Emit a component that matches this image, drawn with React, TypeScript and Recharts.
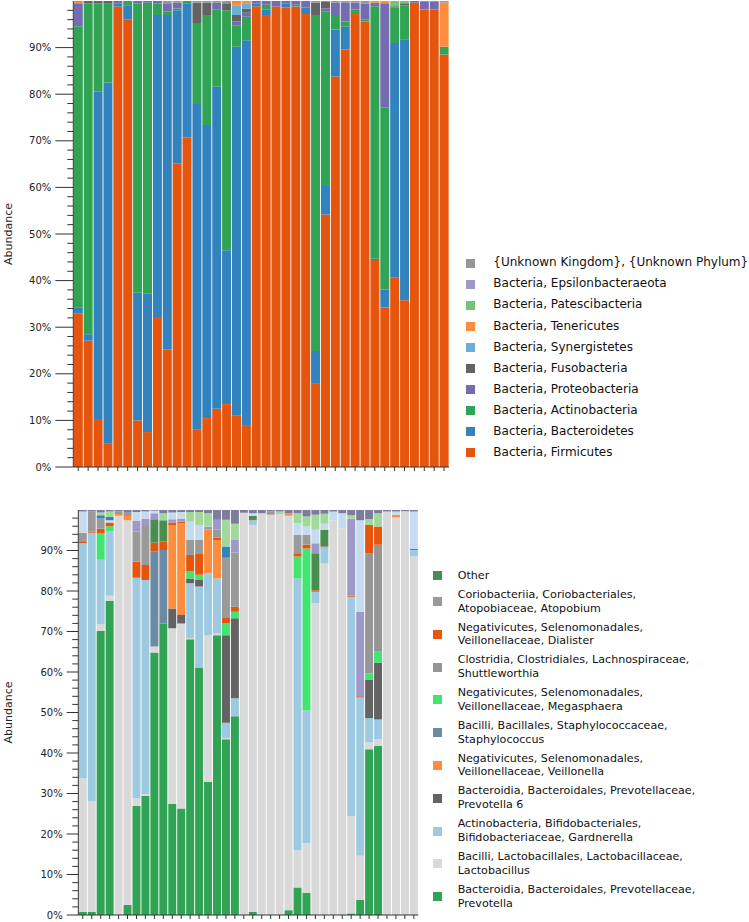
import { BarChart, Bar, XAxis, YAxis, Legend } from "recharts"

const FONT = "'DejaVu Sans', Verdana, sans-serif"

const samples = [
  "S01", "S02", "S03", "S04", "S05", "S06", "S07", "S08", "S09", "S10",
  "S11", "S12", "S13", "S14", "S15", "S16", "S17", "S18", "S19", "S20",
  "S21", "S22", "S23", "S24", "S25", "S26", "S27", "S28", "S29", "S30",
  "S31", "S32", "S33", "S34", "S35", "S36", "S37", "S38",
]

const pctTicks = [
  0, 2, 4, 6, 8, 10, 12, 14, 16, 18, 20, 22, 24, 26, 28, 30, 32, 34, 36, 38,
  40, 42, 44, 46, 48, 50, 52, 54, 56, 58, 60, 62, 64, 66, 68, 70, 72, 74, 76, 78,
  80, 82, 84, 86, 88, 90, 92, 94, 96, 98,
]

// phylum level (top chart), % per sample
const firmicutes = [32.9, 27.1, 10.3, 5, 98.8, 96.1, 10, 7.5, 32.2, 25.2, 65.1, 70.7, 8, 10.5, 12.5, 13.5, 11, 9, 98.9, 97, 98.8, 98.6, 98.8, 97.2, 18, 54.2, 83.8, 89.6, 97.4, 95.6, 44.4, 34.2, 40.7, 35.8, 99.6, 98.2, 98.2, 88.5]
const bacteroidetes = [1.3, 1.4, 70.2, 77.5, 0.7, 3, 27.4, 29.7, 64.8, 71.8, 32.9, 28.8, 69.9, 62.9, 69.1, 33, 79.2, 82.6, 0.5, 1.1, 0, 0.9, 0, 1.4, 6.9, 6.1, 10.1, 4.9, 0, 0, 0.3, 3.9, 50.3, 56, 0, 0, 0, 0]
const actinobacteria = [60.4, 71, 19, 16.9, 0, 0.9, 62.1, 62.4, 2.5, 0.8, 0.4, 0.5, 17.4, 23.6, 16.5, 51.5, 4.6, 5, 0, 1.1, 0, 0, 0.4, 0, 72.1, 37.4, 3.1, 1.1, 0.8, 0.4, 54.2, 39.1, 7.6, 7.3, 0, 0, 0, 1.7]
const proteobacteria = [4.9, 0, 0, 0, 0.5, 0, 0.5, 0.4, 0.5, 1.7, 1.2, 0, 0, 0, 1.5, 0, 0.8, 0.9, 0.6, 0.8, 1.2, 0.5, 0.8, 1.4, 0, 0.7, 2.6, 4, 1.4, 3.4, 0.7, 22.3, 0, 0, 0.4, 1.6, 1.6, 0]
const fusobacteria = [0, 0.5, 0.5, 0.6, 0, 0, 0, 0, 0, 0, 0, 0, 4.3, 2.6, 0, 1.5, 1.4, 0.9, 0, 0, 0, 0, 0, 0, 2.6, 1.4, 0, 0, 0, 0, 0, 0, 0.3, 0.4, 0, 0, 0, 0]
const synergistetes = [0, 0, 0, 0, 0, 0, 0, 0, 0, 0, 0, 0, 0, 0, 0, 0, 2.1, 1.1, 0, 0, 0, 0, 0, 0, 0, 0, 0, 0, 0, 0, 0, 0, 0, 0, 0, 0, 0, 0]
const tenericutes = [0.3, 0, 0, 0, 0, 0, 0, 0, 0, 0, 0, 0, 0, 0, 0, 0, 0.7, 0.5, 0, 0, 0, 0, 0, 0, 0, 0, 0, 0, 0, 0, 0.4, 0.5, 0, 0, 0, 0, 0, 9.5]
const patescibacteria = [0, 0, 0, 0, 0, 0, 0, 0, 0, 0, 0, 0, 0, 0, 0, 0, 0, 0, 0, 0, 0, 0, 0, 0, 0, 0, 0, 0, 0, 0, 0, 0, 1.1, 0.5, 0, 0, 0, 0]
const epsilonbacteraeota = [0, 0, 0, 0, 0, 0, 0, 0, 0, 0, 0, 0, 0, 0, 0, 0, 0, 0, 0, 0, 0, 0, 0, 0, 0, 0, 0, 0, 0, 0, 0, 0, 0, 0, 0, 0, 0, 0]
const unknownPhylum = [0.2, 0, 0, 0, 0, 0, 0, 0, 0, 0.5, 0.4, 0, 0.4, 0.4, 0.4, 0.5, 0.2, 0, 0, 0, 0, 0, 0, 0, 0.4, 0.2, 0.4, 0.4, 0.4, 0.6, 0, 0, 0, 0, 0, 0.2, 0.2, 0.3]

// genus level (bottom chart), % per sample
const prevotella = [0.8, 0.8, 70.1, 77.6, 0, 2.5, 26.9, 29.4, 64.8, 72, 27.4, 26.3, 68.1, 61.1, 32.9, 69.1, 43.4, 49.1, 0, 0.8, 0, 0, 0, 1.2, 6.8, 5.5, 0, 0, 0, 0, 0.4, 3.7, 40.9, 41.7, 0, 0, 0, 0]
const lactobacillus = [32.9, 27.2, 1.7, 1.2, 98.6, 95, 1.9, 0.5, 1.5, 0, 43.4, 45.7, 0.3, 0, 36.2, 0.4, 0.3, 0, 99.3, 95.5, 99.2, 98.8, 99, 97.4, 9.2, 12.2, 77, 86.8, 97.5, 95.5, 24, 10.9, 1.7, 1.7, 99.6, 98.2, 99.7, 88.5]
const gardnerella = [58.1, 66.4, 15.9, 15.9, 0, 0, 54.5, 52.8, 0, 0, 0, 0, 13.5, 20, 15.3, 13.6, 3.8, 4.4, 0, 1.2, 0, 0, 0, 0, 67.1, 32.8, 2.8, 4, 0, 0, 54.2, 39.1, 6, 4.9, 0, 0, 0, 1.6]
const prevotella6 = [0, 0, 0, 0, 0, 0, 0, 0, 0, 0, 4.9, 2.1, 1.2, 1.6, 0, 0, 21.6, 19.8, 0, 0, 0, 0, 0, 0, 0, 0, 0, 0, 0, 0, 0, 0, 9.4, 14, 0, 0, 0, 0]
const veillonella = [0, 0, 0, 0, 0.4, 1, 0, 0, 0, 0, 20.6, 22.6, 0, 0, 10.7, 9.5, 0, 0, 0, 0, 0, 0, 0, 0.6, 0, 0, 0, 0, 0, 0, 0, 0, 0, 0, 0, 0.6, 0, 0]
const staphylococcus = [0, 0, 0, 0, 0, 0, 0, 0, 23.5, 18.1, 0, 0, 0, 0, 0, 0, 0, 0, 0, 0, 0, 0, 0, 0, 0, 0, 0, 0, 0, 0, 0, 0, 0, 0, 0, 0, 0, 0]
const megasphaera = [0, 0, 6.5, 1.3, 0, 0, 0, 0, 0, 0, 0, 0, 1.7, 1.3, 0, 0, 2.9, 1.6, 0, 0, 0, 0, 0, 0, 5.4, 40, 0, 0, 0, 0, 0, 0, 1.7, 2.7, 0, 0, 0, 0]
const shuttleworthia = [0, 0, 0, 0, 0, 0, 0, 0, 0, 0, 0, 0, 0, 0, 0, 0, 0, 0, 0, 0, 0, 0, 0, 0, 0, 0, 0, 0, 0, 0, 0, 0, 29.6, 26.4, 0, 0, 0, 0]
const dialister = [0.3, 0.3, 1.2, 0.9, 0, 0, 3.9, 3.7, 2.1, 2.1, 0.6, 0.4, 4.1, 5.3, 0, 0.6, 1.5, 1.2, 0, 0.3, 0, 0, 0, 0, 0.8, 0.9, 0.4, 0.2, 0, 0, 0.3, 0.3, 7, 4.5, 0, 0, 0, 0.3]
const atopobium = [2.3, 4.9, 2.5, 0, 0.7, 1, 7.4, 9.9, 0, 0, 0, 0, 3.7, 3.3, 0, 1.9, 14.7, 13.4, 0, 0, 0, 0.8, 0, 0, 4.5, 2.4, 0, 0, 0, 0, 0, 0, 0, 0, 0, 0, 0, 0]
const otherGenera = [0, 0, 0, 0, 0, 0, 0, 0, 5.8, 5.3, 0, 0, 0, 0, 0, 0, 0, 0, 0, 0.8, 0, 0, 0, 0, 0, 0, 9.1, 4.1, 0, 0, 0, 0, 0, 0, 0, 0, 0, 0]
// minor genera present in the bars but not named in the legend
const minorLavender = [0, 0, 0, 0, 0, 0, 2.7, 1.6, 1.5, 0, 0.8, 0.8, 0, 0, 0.8, 2.5, 0, 3.1, 0, 0, 0, 0, 0, 0, 0, 0, 2.5, 0, 0, 0, 19, 20.9, 0, 0, 0, 0, 0, 0]
const minorPaleBlue = [5.2, 0, 0, 0.6, 0, 0, 2.2, 1.7, 0.6, 0, 1.7, 1.6, 4.5, 3.7, 0, 0, 0, 0, 0, 0.6, 0, 0, 0, 0, 2.9, 2.1, 3.3, 1.5, 2.1, 3.7, 0, 22.6, 0, 0, 0, 0.8, 0, 9.2]
const minorBlue = [0, 0, 0.8, 0.8, 0, 0, 0, 0, 0, 0, 0, 0, 0, 0, 0, 0, 2.8, 0, 0, 0, 0, 0, 0, 0, 0, 0, 0, 0, 0, 0, 0, 0, 0, 0, 0, 0, 0, 0]
const minorLightGreen = [0, 0, 0.7, 1.3, 0, 0, 0, 0, 0, 1.7, 0, 0, 2.4, 3.2, 3.3, 0, 6.6, 4, 0, 0, 0, 0, 0.6, 0, 2.5, 2.5, 3.7, 2.5, 0, 0, 0.8, 0, 1.5, 3.3, 0, 0, 0, 0]
const minorRest = [0.4, 0.4, 0.6, 0.4, 0.3, 0.5, 0.5, 0.4, 0.2, 0.8, 0.6, 0.5, 0.5, 0.5, 0.8, 2.4, 2.4, 3.4, 0.7, 0.8, 0.8, 0.4, 0.4, 0.8, 0.8, 1.6, 1.2, 0.9, 0.4, 0.8, 1.3, 2.5, 2.2, 0.8, 0.4, 0.4, 0.3, 0.4]

// stacking order bottom -> top
const phyla = [
  { key: "firmicutes", name: "Bacteria, Firmicutes", color: "#e6550d", values: firmicutes },
  { key: "bacteroidetes", name: "Bacteria, Bacteroidetes", color: "#3182bd", values: bacteroidetes },
  { key: "actinobacteria", name: "Bacteria, Actinobacteria", color: "#31a354", values: actinobacteria },
  { key: "proteobacteria", name: "Bacteria, Proteobacteria", color: "#756bb1", values: proteobacteria },
  { key: "fusobacteria", name: "Bacteria, Fusobacteria", color: "#636363", values: fusobacteria },
  { key: "synergistetes", name: "Bacteria, Synergistetes", color: "#6baed6", values: synergistetes },
  { key: "tenericutes", name: "Bacteria, Tenericutes", color: "#fd8d3c", values: tenericutes },
  { key: "patescibacteria", name: "Bacteria, Patescibacteria", color: "#74c476", values: patescibacteria },
  { key: "epsilon", name: "Bacteria, Epsilonbacteraeota", color: "#9e9ac8", values: epsilonbacteraeota },
  { key: "unknown", name: "{Unknown Kingdom}, {Unknown Phylum}", color: "#969696", values: unknownPhylum },
]

const genera = [
  { key: "prevotella", name: "Bacteroidia, Bacteroidales, Prevotellaceae,\nPrevotella", color: "#31a354", values: prevotella, listed: true },
  { key: "lactobacillus", name: "Bacilli, Lactobacillales, Lactobacillaceae,\nLactobacillus", color: "#d9d9d9", values: lactobacillus, listed: true },
  { key: "gardnerella", name: "Actinobacteria, Bifidobacteriales,\nBifidobacteriaceae, Gardnerella", color: "#9ecae1", values: gardnerella, listed: true },
  { key: "prevotella6", name: "Bacteroidia, Bacteroidales, Prevotellaceae,\nPrevotella 6", color: "#636363", values: prevotella6, listed: true },
  { key: "veillonella", name: "Negativicutes, Selenomonadales,\nVeillonellaceae, Veillonella", color: "#fd8d3c", values: veillonella, listed: true },
  { key: "staphylococcus", name: "Bacilli, Bacillales, Staphylococcaceae,\nStaphylococcus", color: "#6b8ba4", values: staphylococcus, listed: true },
  { key: "megasphaera", name: "Negativicutes, Selenomonadales,\nVeillonellaceae, Megasphaera", color: "#42e570", values: megasphaera, listed: true },
  { key: "shuttleworthia", name: "Clostridia, Clostridiales, Lachnospiraceae,\nShuttleworthia", color: "#969696", values: shuttleworthia, listed: true },
  { key: "dialister", name: "Negativicutes, Selenomonadales,\nVeillonellaceae, Dialister", color: "#e6550d", values: dialister, listed: true },
  { key: "atopobium", name: "Coriobacteriia, Coriobacteriales,\nAtopobiaceae, Atopobium", color: "#9a9a9a", values: atopobium, listed: true },
  { key: "other", name: "Other", color: "#4b8d50", values: otherGenera, listed: true },
  { key: "minorLavender", name: "minor 1", color: "#9e9ac8", values: minorLavender, listed: false },
  { key: "minorPaleBlue", name: "minor 2", color: "#c6dbef", values: minorPaleBlue, listed: false },
  { key: "minorBlue", name: "minor 3", color: "#3182bd", values: minorBlue, listed: false },
  { key: "minorLightGreen", name: "minor 4", color: "#a1d99b", values: minorLightGreen, listed: false },
  { key: "minorRest", name: "minor 5", color: "#7c7c9c", values: minorRest, listed: false },
]

const phylumRows = samples.map((s, i) => {
  const row: Record<string, string | number> = { sample: s }
  phyla.forEach((p) => (row[p.key] = p.values[i]))
  return row
})

const genusRows = samples.map((s, i) => {
  const row: Record<string, string | number> = { sample: s }
  genera.forEach((g) => (row[g.key] = g.values[i]))
  return row
})

const pctTick = (majorLen: number) => (props: any) => {
  const { x, y, payload } = props
  const v = payload.value as number
  const major = v % 10 === 0
  return (
    <g>
      <line x1={x - (major ? majorLen : 6)} x2={x} y1={y} y2={y} stroke="#333" strokeWidth={1} />
      {major && (
        <text x={x - majorLen - 4} y={y} dy="0.35em" textAnchor="end" fontSize={10} fill="#222" fontFamily={FONT}>
          {v}%
        </text>
      )}
    </g>
  )
}

function LegendList({ items, fontSize, rowPad, gap }: any) {
  return (
    <div style={{ fontFamily: FONT, fontSize, color: "#111" }}>
      {items.map((it: any) => (
        <div key={it.key} style={{ display: "flex", alignItems: "center", padding: `${rowPad}px 0` }}>
          <span style={{ width: 9, height: 9, background: it.color, flex: "none" }} />
          <span style={{ marginLeft: gap, lineHeight: "13.8px", whiteSpace: "pre" }}>{it.name}</span>
        </div>
      ))}
    </div>
  )
}

const axisLabel = (size: number) => ({
  value: "Abundance",
  angle: -90,
  position: "insideLeft" as const,
  offset: 8,
  style: { textAnchor: "middle", fontSize: size, fill: "#222", fontFamily: FONT },
})

export default function App() {
  const phylumLegend = [...phyla].reverse()
  const genusLegend = genera.filter((g) => g.listed).reverse()
  return (
    <div style={{ position: "absolute", left: 0, top: 0, width: 749, height: 922, background: "#fff", fontFamily: FONT }}>
      <div style={{ position: "absolute", left: 0, top: 0 }}>
        <BarChart width={749} height={480} data={phylumRows} margin={{ top: 1, right: 300, bottom: 0, left: 0 }} barCategoryGap={0.5}>
          <XAxis dataKey="sample" height={13} interval={0} tickSize={4} tickFormatter={() => ""} stroke="#333" />
          <XAxis xAxisId="frame" dataKey="sample" orientation="top" height={0} tick={false} tickLine={false} stroke="#333" />
          <YAxis
            width={73.3}
            domain={[0, 100]}
            allowDataOverflow
            ticks={pctTicks}
            interval={0}
            tickSize={0}
            tickMargin={0}
            tickLine={false}
            tick={pctTick(18)}
            stroke="#333"
            label={axisLabel(11)}
          />
          <YAxis yAxisId="frame" orientation="right" width={0} domain={[0, 100]} tick={false} tickLine={false} stroke="#333" />
          <Legend
            layout="vertical"
            align="center"
            verticalAlign="middle"
            wrapperStyle={{ left: 466, top: 252.7, width: 283 }}
            content={() => <LegendList items={phylumLegend} fontSize={12} rowPad={3.65} gap={18.3} />}
          />
          {phyla.map((p) => (
            <Bar key={p.key} dataKey={p.key} name={p.name} stackId="a" fill={p.color} isAnimationActive={false} />
          ))}
        </BarChart>
      </div>
      <div style={{ position: "absolute", left: 0, top: 490 }}>
        <BarChart width={749} height={432} data={genusRows} margin={{ top: 20, right: 330.7, bottom: 0, left: 0 }} barCategoryGap={0.5}>
          <XAxis dataKey="sample" height={7} interval={0} tickSize={4} tickFormatter={() => ""} stroke="#333" />
          <XAxis xAxisId="frame" dataKey="sample" orientation="top" height={0} tick={false} tickLine={false} stroke="#333" />
          <YAxis
            width={78.3}
            domain={[0, 100]}
            allowDataOverflow
            ticks={pctTicks}
            interval={0}
            tickSize={0}
            tickMargin={0}
            tickLine={false}
            tick={pctTick(11.6)}
            stroke="#333"
            label={axisLabel(11)}
          />
          <YAxis yAxisId="frame" orientation="right" width={0} domain={[0, 100]} tick={false} tickLine={false} stroke="#333" />
          <Legend
            layout="vertical"
            align="center"
            verticalAlign="middle"
            wrapperStyle={{ left: 433.3, top: 76.2, width: 310 }}
            content={() => <LegendList items={genusLegend} fontSize={11.1} rowPad={2.6} gap={15.4} />}
          />
          {genera.map((g) => (
            <Bar key={g.key} dataKey={g.key} name={g.name} stackId="g" fill={g.color} isAnimationActive={false} />
          ))}
        </BarChart>
      </div>
    </div>
  )
}
